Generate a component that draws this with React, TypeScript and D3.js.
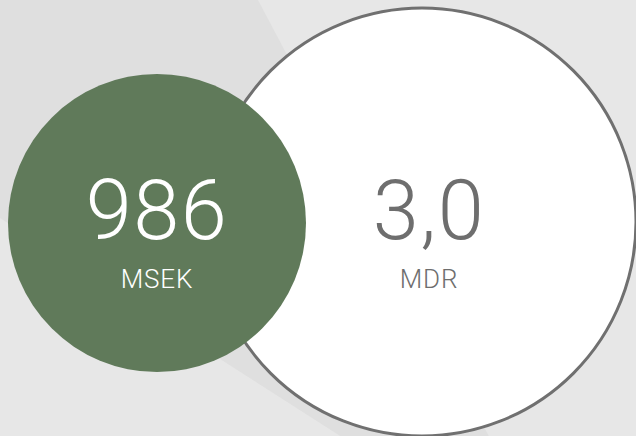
import React from "react";
import * as d3 from "d3";

const W = 636;
const H = 436;

// data
const labels = ["986", "3,0"];
const units = ["MSEK", "MDR"];
const valuesBn = [0.986, 3.0];
const fills = ["#607a5a", "#ffffff"];
const strokes = ["none", "#707070"];
const textColors = ["#ffffff", "#6e6e6e"];

export default function App() {
  const r = d3.scaleLinear().domain([0.986, 3.0]).range([149, 214]);
  const cx = d3.scaleOrdinal<string, number>().domain(labels).range([157, 422]);
  const tx = d3.scaleOrdinal<string, number>().domain(labels).range([157, 429]);
  const cy = 222;

  // background wedge
  const wedge = d3.line()([
    [0, 0],
    [258, 0],
    [565, 580],
    [0, 218],
  ]) + "Z";

  const order = [1, 0];

  return (
    <svg
      width={W}
      height={H}
      style={{ position: "absolute", left: 0, top: 0, display: "block" }}
      fontFamily="Roboto, 'Open Sans', sans-serif"
    >
      <rect x={0} y={0} width={W} height={H} fill="#e7e7e7" />
      <path d={wedge} fill="#dfdfdf" />
      {order.map((i) => (
        <circle
          key={labels[i]}
          cx={cx(labels[i])}
          cy={cy + (i === 0 ? 1 : 0)}
          r={r(valuesBn[i])}
          fill={fills[i]}
          stroke={strokes[i]}
          strokeWidth={3}
        />
      ))}
      {labels.map((l, i) => (
        <g key={l} fill={textColors[i]} textAnchor="middle">
          <text x={tx(l)} y={239} fontSize={83} fontWeight={300} letterSpacing={1.5}>
            {l}
          </text>
          <text x={tx(l)} y={288} fontSize={26} fontWeight={300} letterSpacing={0.8}>
            {units[i]}
          </text>
        </g>
      ))}
    </svg>
  );
}
